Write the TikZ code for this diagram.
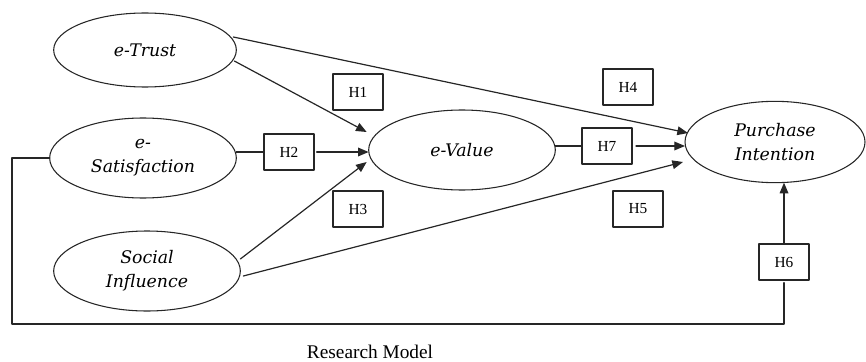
\documentclass[tikz,border=0pt]{standalone}
\usepackage{fontspec}
\setmainfont{Liberation Serif}
\newfontfamily\constructfont{DejaVu Serif}
\usetikzlibrary{arrows.meta,shapes.geometric,calc}

\begin{document}
\begin{tikzpicture}[
  x=0.75pt,
  y=0.75pt,
  line cap=round,
  line join=round,
  >={Triangle[length=8pt,width=6.5pt]},
  construct/.style={
    ellipse,
    draw=black!85,
    fill=white,
    inner sep=0pt,
    outer sep=0pt,
    line width=0.8pt,
    align=center,
    font=\constructfont\itshape\fontsize{13}{18}\selectfont
  },
  hyp/.style={
    rectangle,
    draw=black!85,
    fill=white,
    minimum width=37.5pt,
    minimum height=27pt,
    inner sep=0pt,
    outer sep=0pt,
    line width=0.8pt,
    font=\fontsize{11.5}{13}\selectfont
  },
  edge/.style={draw=black!85,line width=0.9pt},
  link/.style={edge,->},
  captionlabel/.style={font=\fontsize{14.5}{17}\selectfont}
]
\useasboundingbox (0,0) rectangle (866,361);

% Constructs of the model.
\node[construct,minimum width=137pt,minimum height=55.5pt] (et) at (145,311) {e-Trust};
\node[construct,minimum width=140pt,minimum height=60pt] (es) at (143,203) {e-\\Satisfaction};
\node[construct,minimum width=140pt,minimum height=60pt] (si) at (147,90) {Social\\Influence};
\node[construct,minimum width=140pt,minimum height=60pt] (ev) at (462,211) {e-Value};
\node[construct,minimum width=135pt,minimum height=61pt] (pi) at (775,219) {Purchase\\Intention};

% Hypothesis labels.
\node[hyp] (h1) at (358,269) {H1};
\node[hyp] (h2) at (289,209) {H2};
\node[hyp] (h3) at (358,152) {H3};
\node[hyp] (h4) at (628,274) {H4};
\node[hyp] (h5) at (638,152) {H5};
\node[hyp] (h6) at (784,99) {H6};
\node[hyp] (h7) at (607,215) {H7};

\coordinate (ll) at (12,37);

% Paths towards e-Value.
\draw[link] ($(et.east)+(-2,-11)$) -- ($(ev.west)+(-2,18)$);
\draw[edge] (es.east |- h2.west) -- (h2.west);
\draw[link,shorten <=2pt] (h2.east) -- (h2.east -| ev.west);
\draw[link] ($(si.east)+(0,12)$) -- ($(ev.west)+(-2,-12)$);

% Paths towards Purchase Intention.
\draw[link] ($(et.east)+(-3,13)$) -- ($(pi.west)+(3,9)$);
\draw[edge] (ev.east |- h7.west) -- (h7.west);
\draw[link,shorten <=3pt] (h7.east) -- (h7.east -| pi.west);
\draw[link] ($(si.east)+(3,-5)$) -- ($(pi.west)+(-2,-20)$);

% e-Satisfaction loops round to Purchase Intention via H6.
\draw[edge] (es.west) -| (ll) -| ([yshift=-2pt]h6.south);
\draw[link] (h6.north) -- (h6.north |- pi.south);

\node[captionlabel] (cap) at (370,9) {Research Model};

\end{tikzpicture}
\end{document}
